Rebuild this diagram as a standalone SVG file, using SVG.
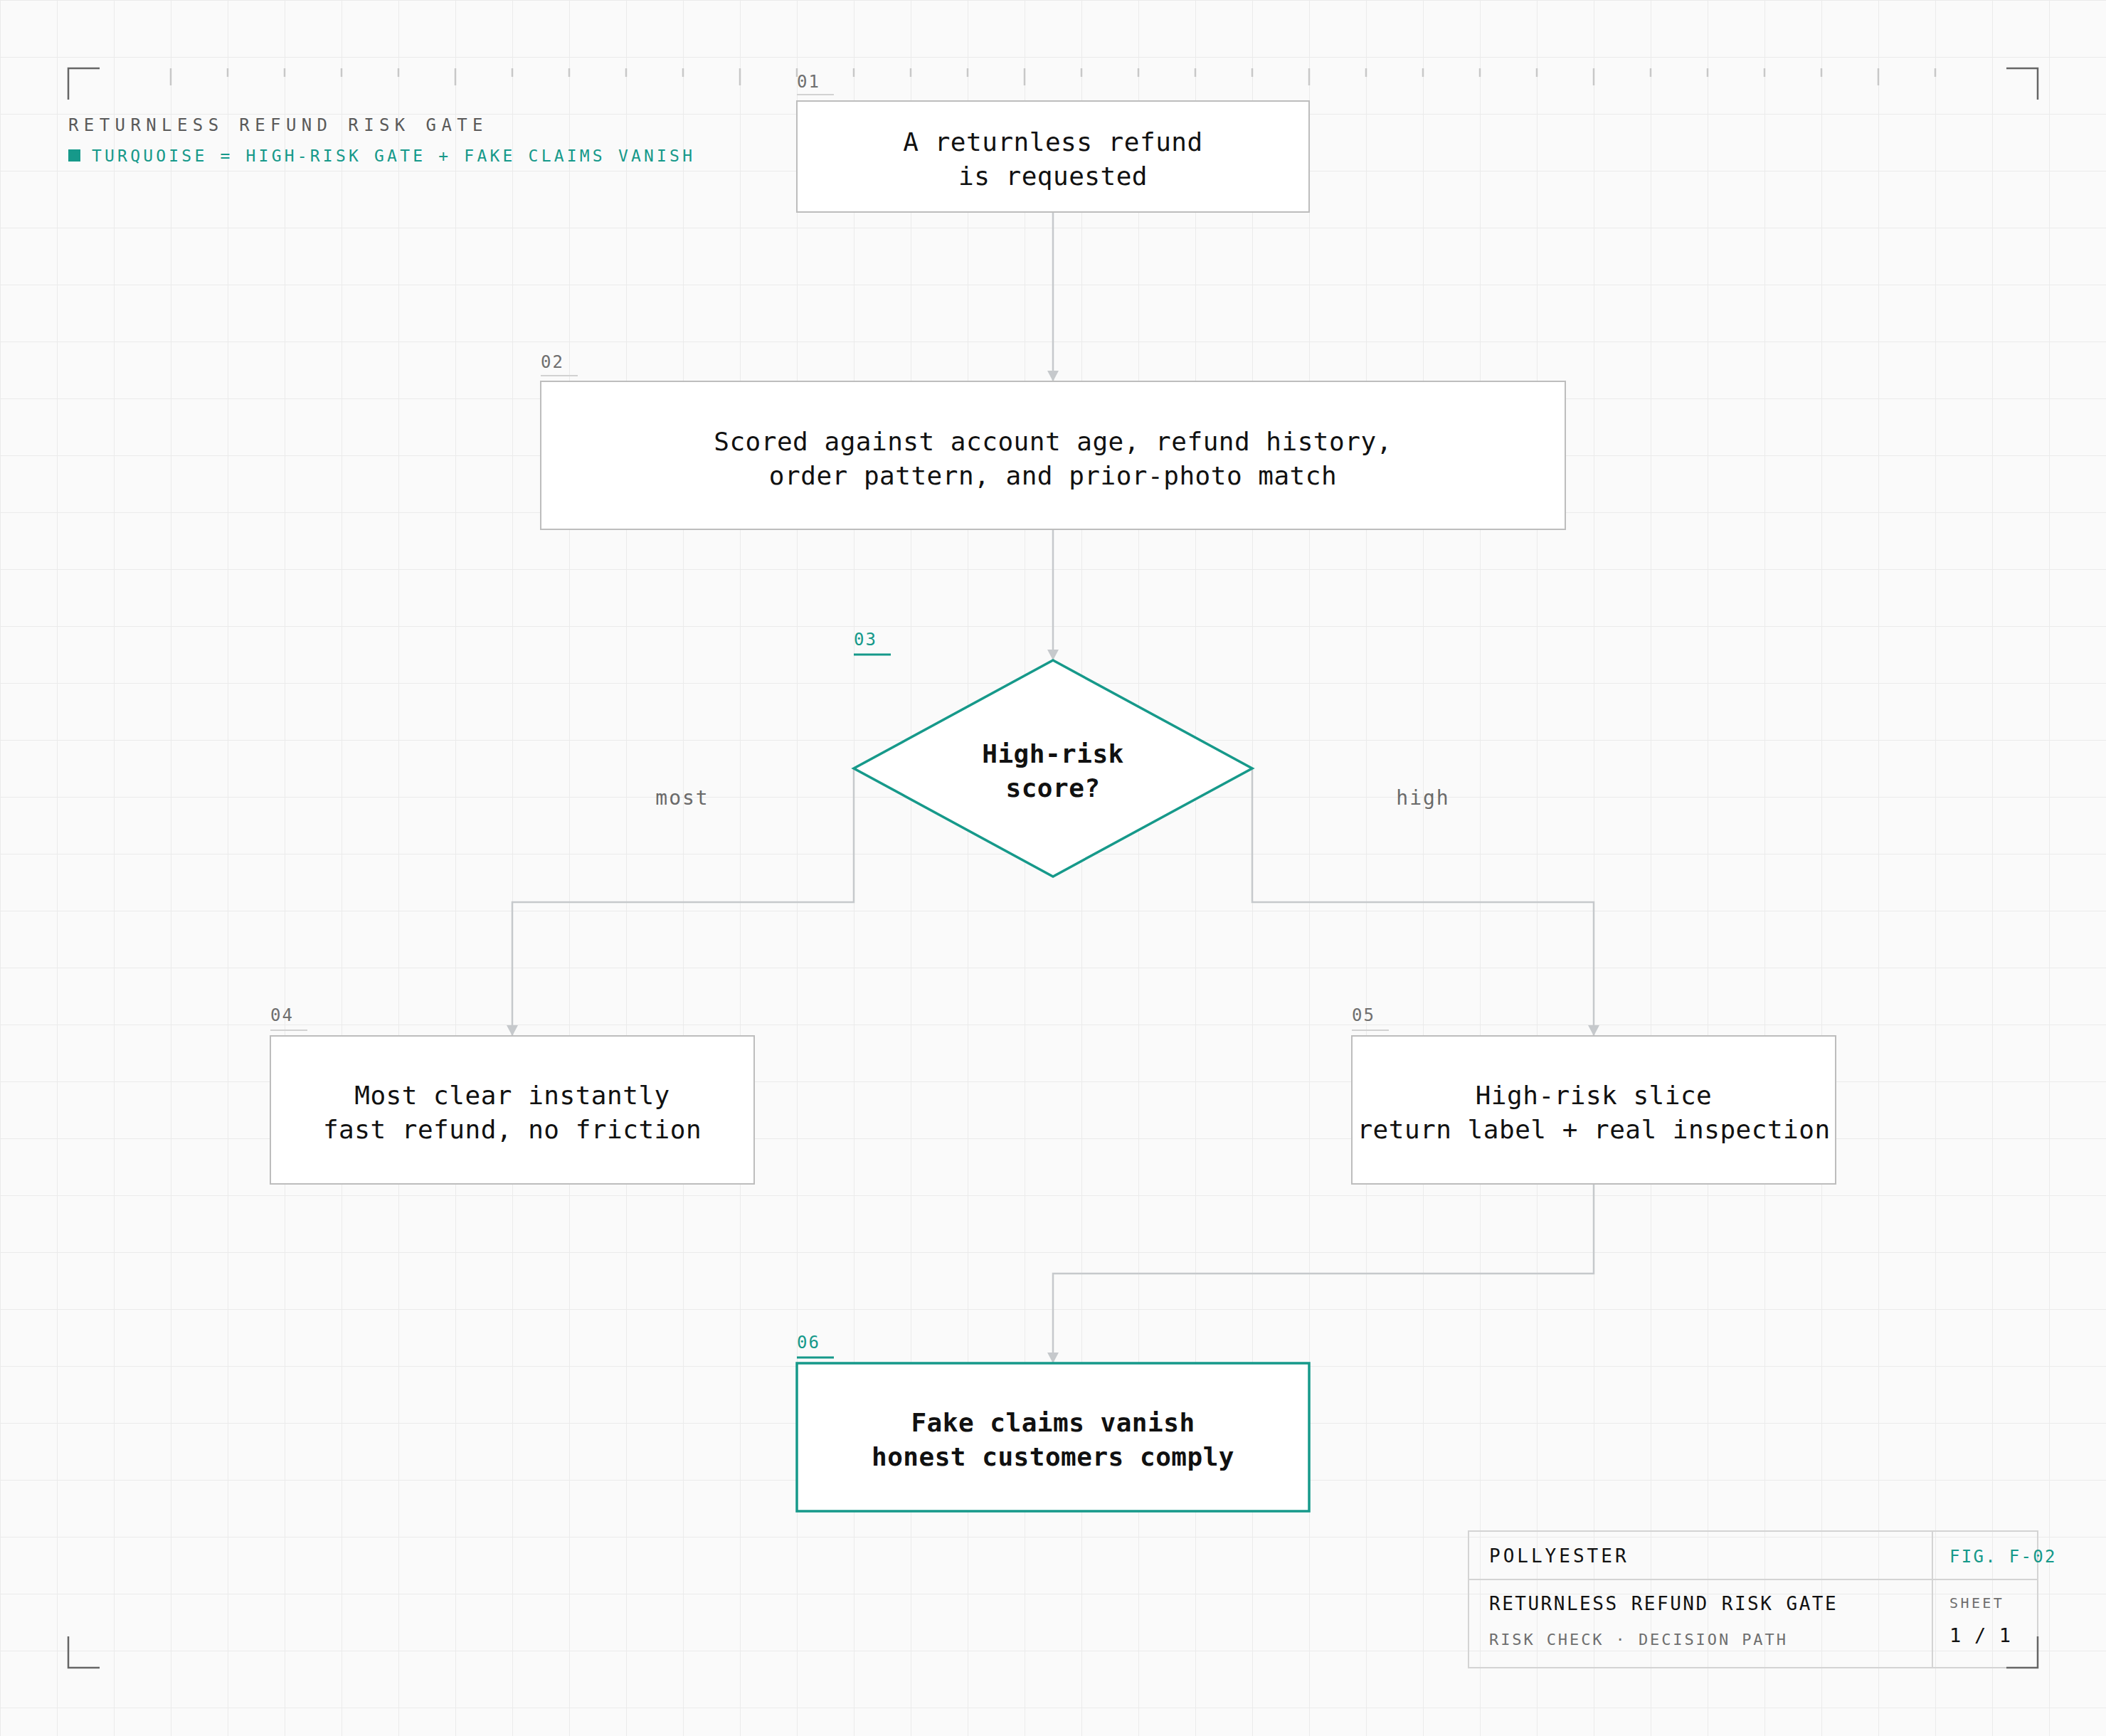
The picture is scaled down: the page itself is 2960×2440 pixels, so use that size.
<svg xmlns="http://www.w3.org/2000/svg" width="2960" height="2440" viewBox="0 0 2960 2440">
<style>
.mono{font-family:"DejaVu Sans Mono","Liberation Mono",monospace}
.node{fill:#ffffff;stroke:#bdbdbd;stroke-width:2}
.hot{fill:#ffffff;stroke:#16998a;stroke-width:3.5}
.ntext{font-family:"DejaVu Sans Mono","Liberation Mono",monospace;font-size:36px;fill:#111111;text-anchor:middle;letter-spacing:0.5px}
.btext{font-family:"DejaVu Sans Mono","Liberation Mono",monospace;font-size:36px;fill:#111111;text-anchor:middle;letter-spacing:0.5px;font-weight:bold}
.idx{font-family:"DejaVu Sans Mono","Liberation Mono",monospace;font-size:24px;fill:#6f6f6f;letter-spacing:2px}
.idxt{font-family:"DejaVu Sans Mono","Liberation Mono",monospace;font-size:24px;fill:#16998a;letter-spacing:2px}
.uline{stroke:#d2d2d2;stroke-width:2}
.ulinet{stroke:#16998a;stroke-width:3}
.conn{fill:none;stroke:#c6c9cc;stroke-width:2.5}
.elabel{font-family:"DejaVu Sans Mono","Liberation Mono",monospace;font-size:28px;fill:#6a6a6a;text-anchor:middle;letter-spacing:2px}
.corner{fill:none;stroke:#666666;stroke-width:2.5}
.tick{stroke:#c8c8c8;stroke-width:2.5}
.tb{fill:none;stroke:#d4d4d4;stroke-width:2}
</style>
<defs>
<pattern id="grid" width="80" height="80" patternUnits="userSpaceOnUse">
<path d="M80 0 H0 V80" fill="none" stroke="#ebebeb" stroke-width="2"/>
</pattern>
<marker id="arr" markerWidth="16" markerHeight="16" refX="15" refY="8" orient="auto" markerUnits="userSpaceOnUse">
<path d="M0 0 L15 8 L0 16 Z" fill="#c6c9cc"/>
</marker>
</defs>
<rect x="0" y="0" width="2960" height="2440" fill="#fafafa"/>
<rect x="0" y="0" width="2960" height="2440" fill="url(#grid)"/>

<g id="ruler">
<line class="tick" x1="240" y1="96" x2="240" y2="120"/>
<line class="tick" x1="320" y1="96" x2="320" y2="108"/>
<line class="tick" x1="400" y1="96" x2="400" y2="108"/>
<line class="tick" x1="480" y1="96" x2="480" y2="108"/>
<line class="tick" x1="560" y1="96" x2="560" y2="108"/>
<line class="tick" x1="640" y1="96" x2="640" y2="120"/>
<line class="tick" x1="720" y1="96" x2="720" y2="108"/>
<line class="tick" x1="800" y1="96" x2="800" y2="108"/>
<line class="tick" x1="880" y1="96" x2="880" y2="108"/>
<line class="tick" x1="960" y1="96" x2="960" y2="108"/>
<line class="tick" x1="1040" y1="96" x2="1040" y2="120"/>
<line class="tick" x1="1120" y1="96" x2="1120" y2="108"/>
<line class="tick" x1="1200" y1="96" x2="1200" y2="108"/>
<line class="tick" x1="1280" y1="96" x2="1280" y2="108"/>
<line class="tick" x1="1360" y1="96" x2="1360" y2="108"/>
<line class="tick" x1="1440" y1="96" x2="1440" y2="120"/>
<line class="tick" x1="1520" y1="96" x2="1520" y2="108"/>
<line class="tick" x1="1600" y1="96" x2="1600" y2="108"/>
<line class="tick" x1="1680" y1="96" x2="1680" y2="108"/>
<line class="tick" x1="1760" y1="96" x2="1760" y2="108"/>
<line class="tick" x1="1840" y1="96" x2="1840" y2="120"/>
<line class="tick" x1="1920" y1="96" x2="1920" y2="108"/>
<line class="tick" x1="2000" y1="96" x2="2000" y2="108"/>
<line class="tick" x1="2080" y1="96" x2="2080" y2="108"/>
<line class="tick" x1="2160" y1="96" x2="2160" y2="108"/>
<line class="tick" x1="2240" y1="96" x2="2240" y2="120"/>
<line class="tick" x1="2320" y1="96" x2="2320" y2="108"/>
<line class="tick" x1="2400" y1="96" x2="2400" y2="108"/>
<line class="tick" x1="2480" y1="96" x2="2480" y2="108"/>
<line class="tick" x1="2560" y1="96" x2="2560" y2="108"/>
<line class="tick" x1="2640" y1="96" x2="2640" y2="120"/>
<line class="tick" x1="2720" y1="96" x2="2720" y2="108"/>
</g>

<g id="header">
<text class="mono" x="96" y="184" font-size="24" fill="#5a5a5a" letter-spacing="7.4">RETURNLESS REFUND RISK GATE</text>
<rect x="96" y="210" width="17" height="17" fill="#16998a"/>
<text class="mono" x="129" y="227" font-size="23" fill="#16998a" letter-spacing="4.2">TURQUOISE = HIGH-RISK GATE + FAKE CLAIMS VANISH</text>
</g>

<g id="connectors">
<path class="conn" d="M1480 298 V536" marker-end="url(#arr)"/>
<path class="conn" d="M1480 744 V928" marker-end="url(#arr)"/>
<path class="conn" d="M1200 1080 V1268 H720 V1456" marker-end="url(#arr)"/>
<path class="conn" d="M1760 1080 V1268 H2240 V1456" marker-end="url(#arr)"/>
<path class="conn" d="M2240 1664 V1790 H1480 V1916" marker-end="url(#arr)"/>
<text class="elabel" x="959" y="1131">most</text>
<text class="elabel" x="2000" y="1131">high</text>
</g>

<g id="n01">
<text class="idx" x="1120" y="123">01</text>
<line class="uline" x1="1120" y1="133" x2="1172" y2="133"/>
<rect class="node" x="1120" y="142" width="720" height="156"/>
<text class="ntext" x="1480" y="212">A returnless refund</text>
<text class="ntext" x="1480" y="260">is requested</text>
</g>

<g id="n02">
<text class="idx" x="760" y="517">02</text>
<line class="uline" x1="760" y1="528" x2="812" y2="528"/>
<rect class="node" x="760" y="536" width="1440" height="208"/>
<text class="ntext" x="1480" y="633">Scored against account age, refund history,</text>
<text class="ntext" x="1480" y="681">order pattern, and prior-photo match</text>
</g>

<g id="n03">
<text class="idxt" x="1200" y="907">03</text>
<line class="ulinet" x1="1200" y1="920" x2="1252" y2="920"/>
<polygon class="hot" points="1480,928 1760,1080 1480,1232 1200,1080"/>
<text class="btext" x="1480" y="1072">High-risk</text>
<text class="btext" x="1480" y="1120">score?</text>
</g>

<g id="n04">
<text class="idx" x="380" y="1435">04</text>
<line class="uline" x1="380" y1="1448" x2="432" y2="1448"/>
<rect class="node" x="380" y="1456" width="680" height="208"/>
<text class="ntext" x="720" y="1552">Most clear instantly</text>
<text class="ntext" x="720" y="1600">fast refund, no friction</text>
</g>

<g id="n05">
<text class="idx" x="1900" y="1435">05</text>
<line class="uline" x1="1900" y1="1448" x2="1952" y2="1448"/>
<rect class="node" x="1900" y="1456" width="680" height="208"/>
<text class="ntext" x="2240" y="1552">High-risk slice</text>
<text class="ntext" x="2240" y="1600">return label + real inspection</text>
</g>

<g id="n06">
<text class="idxt" x="1120" y="1895">06</text>
<line class="ulinet" x1="1120" y1="1908" x2="1172" y2="1908"/>
<rect class="hot" x="1120" y="1916" width="720" height="208"/>
<text class="btext" x="1480" y="2012">Fake claims vanish</text>
<text class="btext" x="1480" y="2060">honest customers comply</text>
</g>

<g id="titleblock">
<rect class="tb" x="2064" y="2152" width="800" height="192"/>
<line class="tb" x1="2064" y1="2220" x2="2864" y2="2220"/>
<line class="tb" x1="2716" y1="2152" x2="2716" y2="2344"/>
<text class="mono" x="2093" y="2196" font-size="26" fill="#111111" letter-spacing="4">POLLYESTER</text>
<text class="mono" x="2740" y="2196" font-size="24" fill="#16998a" letter-spacing="2.3">FIG. F-02</text>
<text class="mono" x="2093" y="2263" font-size="26" fill="#111111" letter-spacing="2.5">RETURNLESS REFUND RISK GATE</text>
<text class="mono" x="2093" y="2312" font-size="22" fill="#6f6f6f" letter-spacing="2.9">RISK CHECK · DECISION PATH</text>
<text class="mono" x="2740" y="2260" font-size="20" fill="#6f6f6f" letter-spacing="3.4">SHEET</text>
<text class="mono" x="2740" y="2308" font-size="27" fill="#111111" letter-spacing="1.2">1 / 1</text>
</g>

<g id="frame">
<path class="corner" d="M96 140 V96 H140"/>
<path class="corner" d="M2820 96 H2864 V140"/>
<path class="corner" d="M96 2300 V2344 H140"/>
<path class="corner" d="M2820 2344 H2864 V2300"/>
</g>
</svg>
